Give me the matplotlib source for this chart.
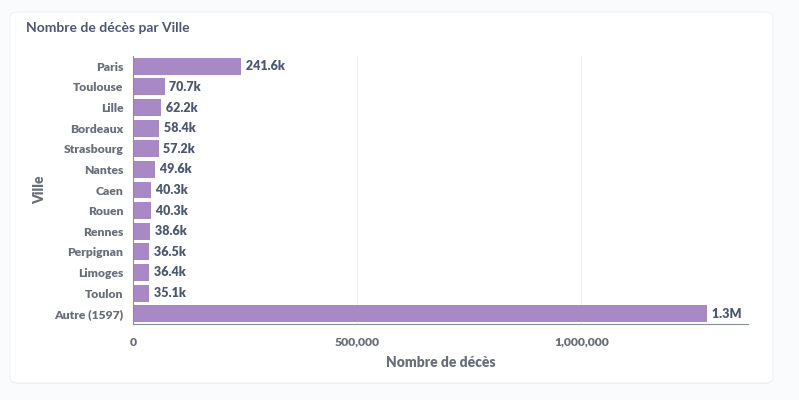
import matplotlib.pyplot as plt
from matplotlib.patches import FancyBboxPatch
from matplotlib.ticker import FuncFormatter

villes = ['Paris', 'Toulouse', 'Lille', 'Bordeaux', 'Strasbourg', 'Nantes', 'Caen',
          'Rouen', 'Rennes', 'Perpignan', 'Limoges', 'Toulon', 'Autre (1597)']
deces = [241600, 70700, 62200, 58400, 57200, 49600, 40300, 40300, 38600, 36500, 36400, 35100, 1281000]
etiquettes = ['241.6k', '70.7k', '62.2k', '58.4k', '57.2k', '49.6k', '40.3k',
              '40.3k', '38.6k', '36.5k', '36.4k', '35.1k', '1.3M']
ticks_x = [0, 500000, 1000000]

plt.rcParams['font.family'] = ['Lato', 'DejaVu Sans']
W, H = 799, 400
fig = plt.figure(figsize=(W / 100, H / 100), dpi=100)
fig.patch.set_facecolor('#F9FBFC')

# card
card = FancyBboxPatch((10 / W, 16 / H), 763 / W, 371 / H, boxstyle='round,pad=0,rounding_size=0.012',
                      transform=fig.transFigure, facecolor='#EEF0F2', edgecolor='none', zorder=-2)
fig.patches.append(card)
card = FancyBboxPatch((10 / W, 17 / H), 763 / W, 371 / H, boxstyle='round,pad=0,rounding_size=0.012',
                      transform=fig.transFigure, facecolor='white', edgecolor='#ECEEF1', lw=0.6, zorder=-1)
fig.patches.append(card)

fig.text(26 / W, 1 - 28 / H, 'Nombre de décès par Ville', fontsize=10, fontweight='bold',
         color='#4C5773', va='center', ha='left')

ax = fig.add_axes([133 / W, 1 - 324 / H, (748 - 133) / W, (324 - 56) / H])
ax.set_zorder(2)
ax.set_facecolor('none')
y = list(range(len(villes)))
ax.barh(y, deces, height=0.82, color='#A989C5', zorder=2)
ax.set_ylim(len(villes) - 0.5, -0.5)
ax.set_xlim(0, 1372000)
for yi, v, t in zip(y, deces, etiquettes):
    ax.text(v + 4000, yi, ' ' + t, va='center', ha='left', fontsize=9, fontweight='heavy', color='#4C5773')

ax.set_yticks(y)
ax.set_yticklabels(villes, fontsize=8.7, fontweight='heavy', color='#696E7B')
ax.set_xticks(ticks_x)
ax.xaxis.set_major_formatter(FuncFormatter(lambda v, p: f'{int(v):,}'))
for lab in ax.get_xticklabels():
    lab.set_fontsize(8.7)
    lab.set_fontweight('heavy')
    lab.set_color('#696E7B')
ax.tick_params(axis='both', length=0)
ax.tick_params(axis='x', pad=9)
ax.tick_params(axis='y', pad=7)
ax.grid(axis='x', color='#ECEEF1', lw=0.8, zorder=0)
for s in ['top', 'right']:
    ax.spines[s].set_visible(False)
ax.spines['left'].set_color('#8A8F9C')
ax.spines['bottom'].set_color('#8A8F9C')
ax.set_xlabel('Nombre de décès', fontsize=10, fontweight='heavy', color='#696E7B', labelpad=6)
ax.set_ylabel('Ville', fontsize=10, fontweight='heavy', color='#696E7B', labelpad=6)

fig.savefig('out.png', dpi=100)
